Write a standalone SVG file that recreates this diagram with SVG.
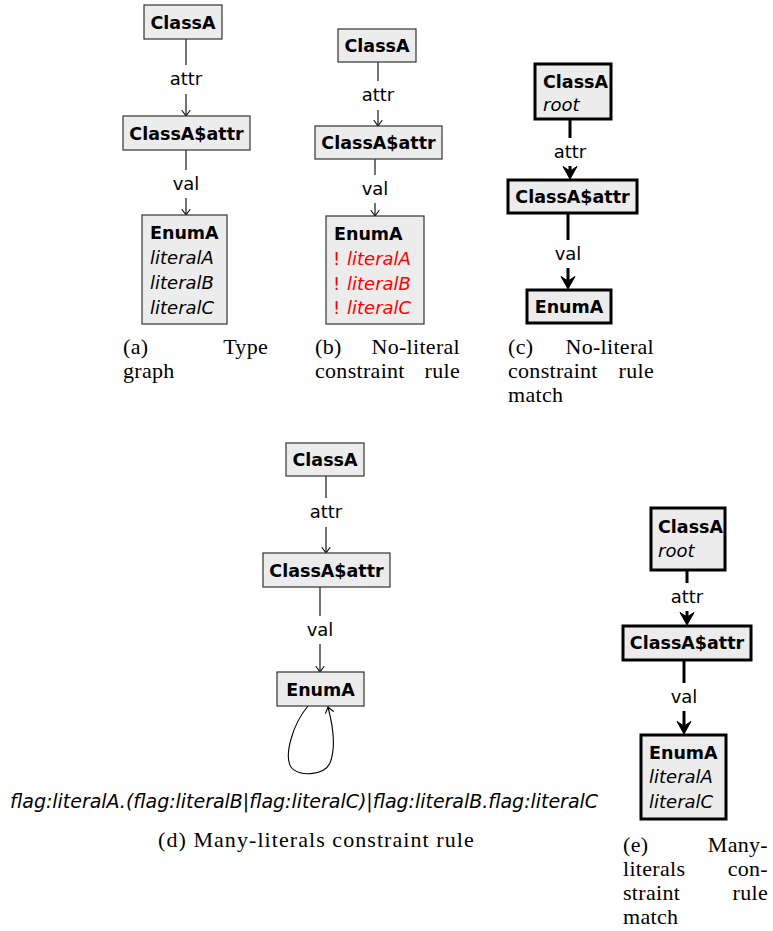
<svg xmlns="http://www.w3.org/2000/svg" width="773" height="931" viewBox="0 0 773 931">
  <style>
    .bg { fill: #ffffff; }
    .node rect { fill: #ececec; stroke: #333333; stroke-width: 1.2; }
    .node.thick rect { stroke: #000000; stroke-width: 3; }
    .title { font-family: "DejaVu Sans", sans-serif; font-weight: bold; font-size: 17.5px; fill: #000; }
    .lit { font-family: "DejaVu Sans", sans-serif; font-style: italic; font-size: 18px; fill: #000; }
    .neg { fill: #ff0000; }
    .bang { font-family: "DejaVu Sans", sans-serif; font-size: 18px; fill: #ff0000; }
    .edge { stroke: #000; stroke-width: 1.1; fill: none; marker-end: url(#tip); }
    .edge.thick { stroke-width: 3; marker-end: url(#tipBold); }
    .lblbg { fill: #ffffff; }
    .lbl { font-family: "DejaVu Sans", sans-serif; font-size: 18px; text-anchor: middle; fill: #000; }
    .cap { font-family: "Liberation Serif", serif; font-size: 22px; fill: #000; letter-spacing: 0.3px; }
    .end { text-anchor: end; }
    .formula { font-family: "DejaVu Sans", sans-serif; font-style: italic; font-size: 19px; fill: #000; }
    .up { font-style: normal; }
  </style>
  <defs>
    <marker id="tip" markerUnits="userSpaceOnUse" markerWidth="14" markerHeight="14" viewBox="-10 -7 14 14" refX="0" refY="0" orient="auto" overflow="visible">
      <path d="M -5.5 -4 Q -1.5 -1 0 0 Q -1.5 1 -5.5 4" fill="none" stroke="#000" stroke-width="1.1" stroke-linecap="round"/>
    </marker>
    <marker id="tipBold" markerUnits="userSpaceOnUse" markerWidth="20" markerHeight="20" viewBox="-14 -10 20 20" refX="-6" refY="0" orient="auto" overflow="visible">
      <path d="M 0 0 L -12.5 -7 L -8 0 L -12.5 7 Z" fill="#000" stroke="#000" stroke-width="1" stroke-linejoin="round"/>
    </marker>
  </defs>
  <rect class="bg" x="0" y="0" width="773" height="931"/>

  <!-- connectors -->
  <g id="connectors">
    <!-- (a) type graph -->
    <line class="edge" x1="186" y1="39" x2="186" y2="116"/>
    <line class="edge" x1="186" y1="150" x2="186" y2="215"/>
    <!-- (b) no-literal rule -->
    <line class="edge" x1="378" y1="62" x2="378" y2="126"/>
    <line class="edge" x1="375" y1="159" x2="375" y2="216"/>
    <!-- (c) no-literal match -->
    <line class="edge thick" x1="570" y1="119" x2="570" y2="173"/>
    <line class="edge thick" x1="568" y1="213" x2="568" y2="283"/>
    <!-- (d) many-literals rule -->
    <line class="edge" x1="326" y1="476" x2="326" y2="553"/>
    <line class="edge" x1="320" y1="587" x2="320" y2="672"/>
    <path class="edge" d="M 308 706 C 292 725, 284 756, 291 767 C 298 777, 324 776, 330 763 C 336 748, 333 726, 328 707"/>
    <!-- (e) many-literals match -->
    <line class="edge thick" x1="687" y1="570" x2="687" y2="619"/>
    <line class="edge thick" x1="684" y1="660" x2="684" y2="728"/>

    <!-- edge labels -->
    <rect class="lblbg" x="168" y="65" width="36" height="29"/>
    <text class="lbl" x="186" y="85">attr</text>
    <rect class="lblbg" x="171" y="170" width="30" height="28"/>
    <text class="lbl" x="186" y="190">val</text>

    <rect class="lblbg" x="360" y="81" width="36" height="29"/>
    <text class="lbl" x="378" y="101">attr</text>
    <rect class="lblbg" x="360" y="175" width="30" height="28"/>
    <text class="lbl" x="375" y="195">val</text>

    <rect class="lblbg" x="552" y="138" width="36" height="28"/>
    <text class="lbl" x="570" y="158">attr</text>
    <rect class="lblbg" x="553" y="240" width="30" height="28"/>
    <text class="lbl" x="568" y="260">val</text>

    <rect class="lblbg" x="308" y="498" width="36" height="29"/>
    <text class="lbl" x="326" y="518">attr</text>
    <rect class="lblbg" x="305" y="616" width="30" height="28"/>
    <text class="lbl" x="320" y="636">val</text>

    <rect class="lblbg" x="669" y="583" width="36" height="28"/>
    <text class="lbl" x="687" y="603">attr</text>
    <rect class="lblbg" x="669" y="683" width="30" height="28"/>
    <text class="lbl" x="684" y="703">val</text>
  </g>

  <!-- (a) type graph -->
  <g id="a-classA" class="node">
    <rect x="144" y="5" width="78" height="34"/>
    <text class="title" x="183" y="28.5" text-anchor="middle">ClassA</text>
  </g>
  <g id="a-attr" class="node">
    <rect x="123" y="116" width="127" height="34"/>
    <text class="title" x="186.5" y="139.5" text-anchor="middle">ClassA$attr</text>
  </g>
  <g id="a-enumA" class="node">
    <rect x="142" y="215" width="85" height="109"/>
    <text class="title" x="150" y="239">EnumA</text>
    <text class="lit" x="150" y="264">literalA</text>
    <text class="lit" x="150" y="289">literalB</text>
    <text class="lit" x="150" y="314">literalC</text>
  </g>

  <!-- (b) no-literal constraint rule -->
  <g id="b-classA" class="node">
    <rect x="338" y="29" width="78" height="33"/>
    <text class="title" x="377" y="51.5" text-anchor="middle">ClassA</text>
  </g>
  <g id="b-attr" class="node">
    <rect x="315" y="126" width="127" height="33"/>
    <text class="title" x="378.5" y="148.5" text-anchor="middle">ClassA$attr</text>
  </g>
  <g id="b-enumA" class="node">
    <rect x="326" y="216" width="98" height="108"/>
    <text class="title" x="334" y="240">EnumA</text>
    <text class="bang" x="333" y="265">!</text>
    <text class="lit neg" x="347" y="265">literalA</text>
    <text class="bang" x="333" y="290">!</text>
    <text class="lit neg" x="347" y="290">literalB</text>
    <text class="bang" x="333" y="314">!</text>
    <text class="lit neg" x="347" y="314">literalC</text>
  </g>

  <!-- (c) no-literal constraint rule match -->
  <g id="c-classA" class="node thick">
    <rect x="535" y="64" width="76" height="55"/>
    <text class="title" x="543" y="88">ClassA</text>
    <text class="lit" x="543" y="111">root</text>
  </g>
  <g id="c-attr" class="node thick">
    <rect x="508" y="180" width="129" height="33"/>
    <text class="title" x="572.5" y="202.5" text-anchor="middle">ClassA$attr</text>
  </g>
  <g id="c-enumA" class="node thick">
    <rect x="527" y="290" width="84" height="33"/>
    <text class="title" x="569" y="312.5" text-anchor="middle">EnumA</text>
  </g>

  <!-- (d) many-literals constraint rule -->
  <g id="d-classA" class="node">
    <rect x="286" y="443" width="78" height="33"/>
    <text class="title" x="325" y="465.5" text-anchor="middle">ClassA</text>
  </g>
  <g id="d-attr" class="node">
    <rect x="263" y="553" width="127" height="34"/>
    <text class="title" x="326.5" y="576.5" text-anchor="middle">ClassA$attr</text>
  </g>
  <g id="d-enumA" class="node">
    <rect x="277" y="672" width="87" height="34"/>
    <text class="title" x="320.5" y="695.5" text-anchor="middle">EnumA</text>
  </g>
  <text class="formula" x="10" y="808" textLength="588">flag:literalA.(flag:literalB<tspan class="up">|</tspan>flag:literalC)<tspan class="up">|</tspan>flag:literalB.flag:literalC</text>

  <!-- (e) many-literals constraint rule match -->
  <g id="e-classA" class="node thick">
    <rect x="651" y="508" width="74" height="62"/>
    <text class="title" x="658" y="533">ClassA</text>
    <text class="lit" x="658" y="557">root</text>
  </g>
  <g id="e-attr" class="node thick">
    <rect x="623" y="626" width="128" height="34"/>
    <text class="title" x="687" y="649" text-anchor="middle">ClassA$attr</text>
  </g>
  <g id="e-enumA" class="node thick">
    <rect x="641" y="735" width="85" height="84"/>
    <text class="title" x="649" y="759">EnumA</text>
    <text class="lit" x="649" y="783">literalA</text>
    <text class="lit" x="649" y="808">literalC</text>
  </g>

  <!-- sub-figure captions -->
  <g id="captions">
    <text class="cap" x="123" y="354">(a)</text>
    <text class="cap end" x="268" y="354">Type</text>
    <text class="cap" x="123" y="378">graph</text>

    <text class="cap" x="315" y="354">(b)</text>
    <text class="cap end" x="460" y="354">No-literal</text>
    <text class="cap" x="315" y="378">constraint</text>
    <text class="cap end" x="460" y="378">rule</text>

    <text class="cap" x="508" y="354">(c)</text>
    <text class="cap end" x="654" y="354">No-literal</text>
    <text class="cap" x="508" y="378">constraint</text>
    <text class="cap end" x="654" y="378">rule</text>
    <text class="cap" x="508" y="402">match</text>

    <text class="cap" x="316" y="847" text-anchor="middle" textLength="316">(d) Many-literals constraint rule</text>

    <text class="cap" x="623" y="852">(e)</text>
    <text class="cap end" x="768" y="852">Many-</text>
    <text class="cap" x="623" y="876">literals</text>
    <text class="cap end" x="768" y="876">con-</text>
    <text class="cap" x="623" y="900">straint</text>
    <text class="cap end" x="768" y="900">rule</text>
    <text class="cap" x="623" y="924">match</text>
  </g>
</svg>
